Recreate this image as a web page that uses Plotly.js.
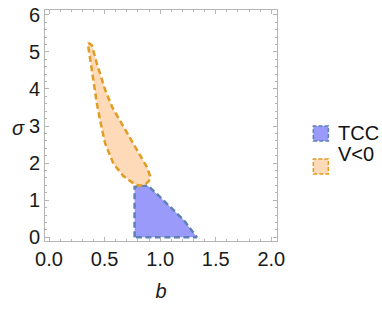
<!DOCTYPE html>
<html>
<head>
<meta charset="utf-8">
<script src="https://cdn.plot.ly/plotly-3.0.1.min.js"></script>
<style>html,body{margin:0;padding:0;background:#fff;}#chart{width:382px;height:311px;}</style>
</head>
<body>
<div id="chart"></div>
<script>
// TCC region boundary (b, sigma)
var tccB = [0.77, 0.77, 0.83, 0.89, 0.97, 1.09, 1.21, 1.33, 0.77];
var tccS = [0.00, 1.36, 1.39, 1.39, 1.17, 0.82, 0.47, 0.00, 0.00];

// V<0 region boundary (b, sigma)
var vB = [0.354, 0.385, 0.43, 0.505, 0.572, 0.669, 0.79, 0.88, 0.91, 0.90, 0.87, 0.82, 0.77, 0.72, 0.669, 0.579, 0.505, 0.459, 0.43, 0.399, 0.369, 0.351, 0.354];
var vS = [5.25, 5.18, 4.69, 3.98, 3.49, 2.98, 2.35, 1.90, 1.65, 1.52, 1.44, 1.39, 1.43, 1.53, 1.65, 1.99, 2.53, 3.16, 3.62, 4.24, 4.78, 5.18, 5.25];

var seriesNames = ['TCC', 'V<0'];
var xTickVals = [0, 0.5, 1.0, 1.5, 2.0];
var xTickText = ['0.0', '0.5', '1.0', '1.5', '2.0'];
var yTickVals = [0, 1, 2, 3, 4, 5, 6];

var blueFill = 'rgb(154,154,250)';
var blueLine = 'rgb(94,129,181)';
var orangeFill = 'rgb(255,218,185)';
var orangeLine = 'rgb(225,156,36)';

var traces = [
  {x: tccB, y: tccS, type: 'scatter', mode: 'lines', fill: 'toself', fillcolor: blueFill,
   line: {color: blueLine, width: 2.5, dash: '6px,3.5px'}, name: seriesNames[0], showlegend: false, hoverinfo: 'skip'},
  {x: vB, y: vS, type: 'scatter', mode: 'lines', fill: 'toself', fillcolor: orangeFill,
   line: {color: orangeLine, width: 2.5, dash: '6px,3.5px'}, name: seriesNames[1], showlegend: false, hoverinfo: 'skip'}
];

var axisCommon = {
  showgrid: false, zeroline: false, showline: true, linecolor: '#b5b5b5', linewidth: 1,
  mirror: 'ticks', ticks: 'inside', ticklen: 4, tickcolor: '#b5b5b5', tickwidth: 1,
  tickfont: {family: 'Liberation Sans, Arial, sans-serif', size: 20, color: '#1a1a1a'}
};

var layout = {
  width: 382, height: 311,
  margin: {l: 45, r: 105.3, t: 10, b: 70},
  paper_bgcolor: '#fff', plot_bgcolor: '#fff',
  showlegend: false,
  xaxis: Object.assign({}, axisCommon, {
    range: [-0.036, 2.051], tickvals: xTickVals, ticktext: xTickText,
    minor: {dtick: 0.1, tick0: 0, ticks: 'inside', ticklen: 2, tickcolor: '#b5b5b5'},
    title: {text: '<i>b</i>', font: {family: 'Liberation Sans, Arial, sans-serif', size: 20, color: '#1a1a1a'}, standoff: 14}
  }),
  yaxis: Object.assign({}, axisCommon, {
    range: [-0.1, 6.13], tickvals: yTickVals,
    minor: {dtick: 0.2, tick0: 0, ticks: 'inside', ticklen: 2, tickcolor: '#b5b5b5'}
  }),
  annotations: [
    {text: '<i>σ</i>', xref: 'paper', yref: 'paper', x: -0.149, y: 0.489, showarrow: false,
     font: {family: 'Liberation Sans, Arial, sans-serif', size: 20, color: '#1a1a1a'}},
    {text: seriesNames[0], xref: 'paper', yref: 'paper', x: (336 - 45) / 231.7, y: (241 - 133.3) / 231,
     xanchor: 'left', showarrow: false, font: {family: 'Liberation Sans, Arial, sans-serif', size: 20, color: '#111'}},
    {text: seriesNames[1], xref: 'paper', yref: 'paper', x: (336 - 45) / 231.7, y: (241 - 166.5) / 231,
     xanchor: 'left', showarrow: false, font: {family: 'Liberation Sans, Arial, sans-serif', size: 20, color: '#111'}}
  ],
  shapes: [
    {type: 'rect', xref: 'paper', yref: 'paper',
     x0: (313 - 45) / 231.7, x1: (328 - 45) / 231.7, y0: (241 - 141) / 231, y1: (241 - 126) / 231,
     fillcolor: blueFill, line: {color: blueLine, width: 1.5, dash: '4px,2px'}},
    {type: 'rect', xref: 'paper', yref: 'paper',
     x0: (313 - 45) / 231.7, x1: (328 - 45) / 231.7, y0: (241 - 174) / 231, y1: (241 - 159) / 231,
     fillcolor: orangeFill, line: {color: orangeLine, width: 1.5, dash: '4px,2px'}}
  ]
};

Plotly.newPlot('chart', traces, layout, {staticPlot: true, displayModeBar: false});
</script>
</body>
</html>
